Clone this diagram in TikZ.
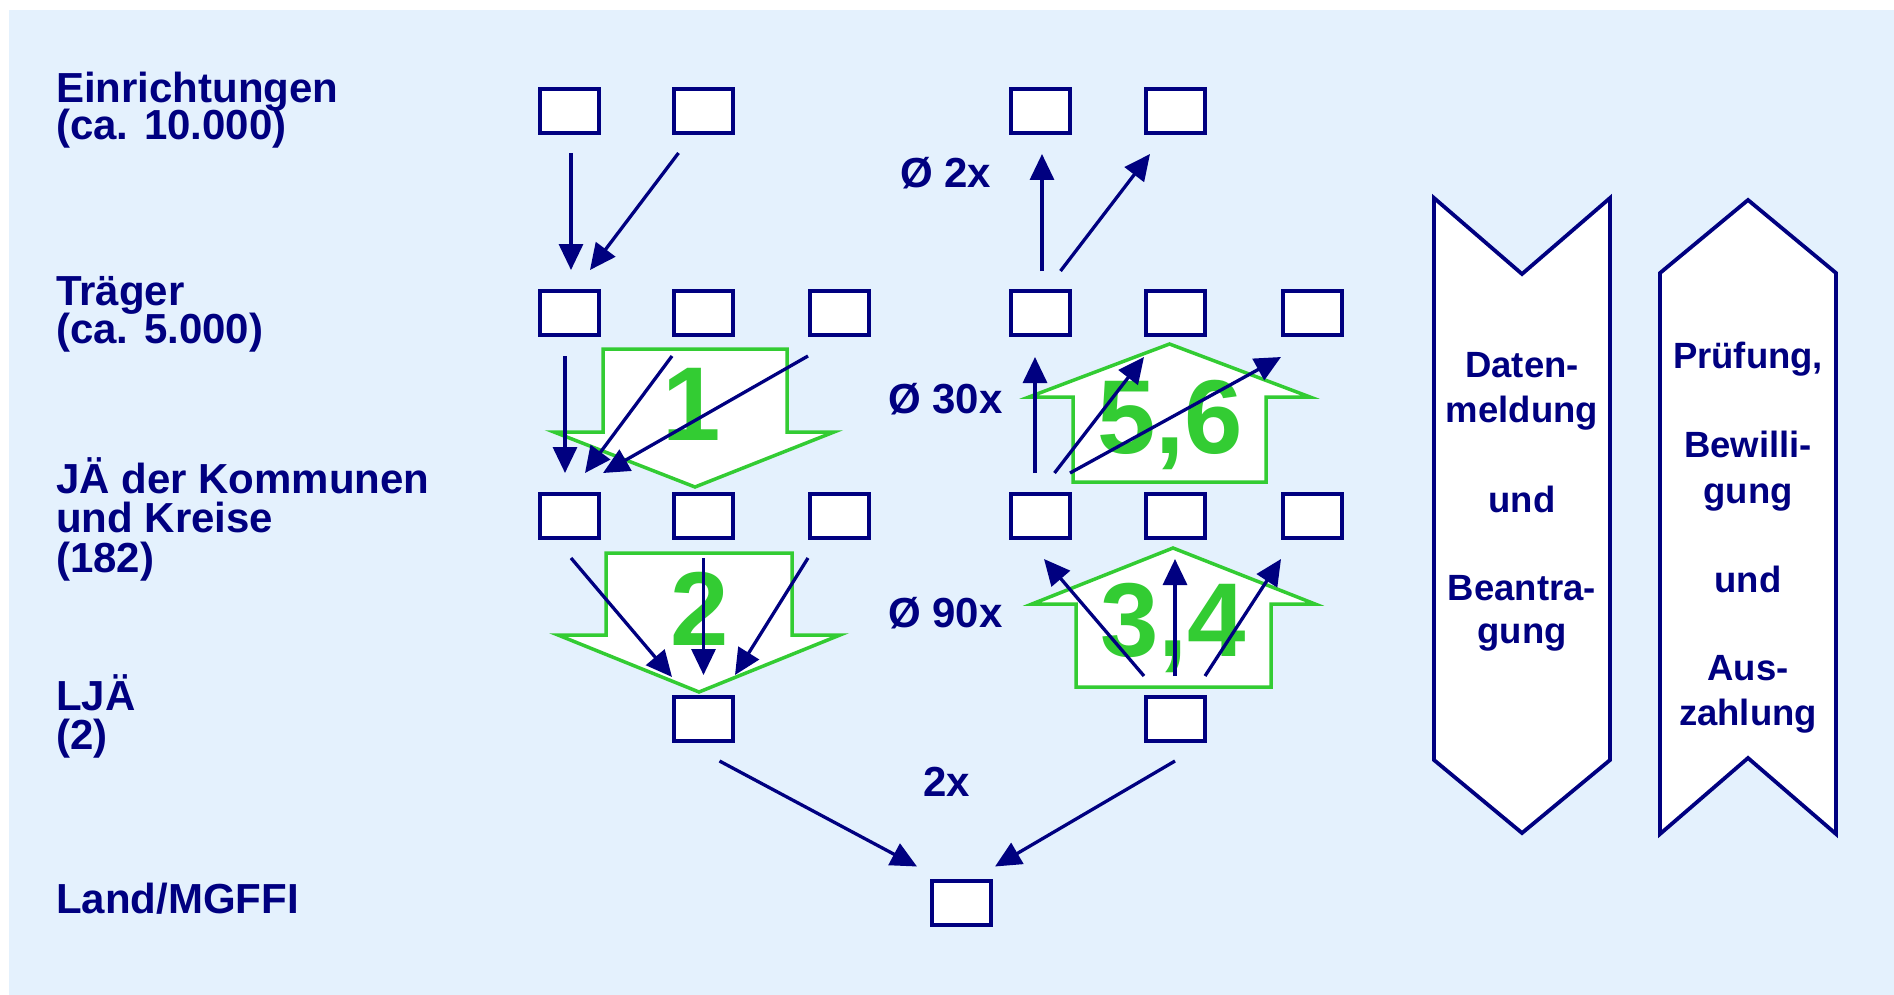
\documentclass[tikz,border=0pt]{standalone}
\usepackage{fontspec}
\setmainfont{Liberation Sans}
\usetikzlibrary{arrows.meta}
\definecolor{navy}{RGB}{0,0,128}
\definecolor{bgreen}{RGB}{51,204,51}
\definecolor{bgblue}{RGB}{228,241,253}
\begin{document}
\begin{tikzpicture}[x=1pt,y=-1pt,
 box/.style={draw=navy,fill=white,line width=4pt,minimum width=59pt,minimum height=44pt,inner sep=0pt},
 arr/.style={draw=navy,line width=3.3pt,-{Triangle[length=26pt,width=24pt]}},
 blockarr/.style={draw=bgreen,fill=white,line width=3.5pt},
 banner/.style={draw=navy,fill=white,line width=3.8pt},
 lab/.style={inner sep=0pt,anchor=base west,text=navy,font=\fontsize{42}{42}\selectfont\bfseries},
 btxt/.style={inner sep=0pt,anchor=base,text=navy,font=\fontsize{36.5}{36.5}\selectfont\bfseries},
 num/.style={inner sep=0pt,anchor=base,text=bgreen,font=\fontsize{105}{105}\selectfont\bfseries}]
\useasboundingbox (0,0) rectangle (1894,995);
\fill[white] (0,0) rectangle (1894,995);
\fill[bgblue] (9,10) rectangle (1894,995);

% left labels
\node[lab] (l1a) at (56,103) {Einrichtungen};
\node[lab] (l1b) at (56,140) {(ca. 10.000)};
\node[lab] (l2a) at (56,305) {Träger};
\node[lab] (l2b) at (56,343) {(ca. 5.000)};
\node[lab] (l3a) at (56,493) {JÄ der Kommunen};
\node[lab] (l3b) at (56,532) {und Kreise};
\node[lab] (l3c) at (56,572) {(182)};
\node[lab] (l4a) at (56,710) {LJÄ};
\node[lab] (l4b) at (56,749) {(2)};
\node[lab] (l5a) at (56,913) {Land/MGFFI};

% middle labels
\node[lab] (m1) at (900,187) {Ø 2x};
\node[lab] (m2) at (888,413) {Ø 30x};
\node[lab] (m3) at (888,627) {Ø 90x};
\node[lab] (m4) at (923,796) {2x};

% green block arrows
\draw[blockarr] (603,349) -- (787,349) -- (787,432) -- (834,432) -- (695,487) -- (554,432) -- (603,432) -- cycle;
\draw[blockarr] (606,553) -- (792,553) -- (792,635) -- (840,635) -- (699,692) -- (558,635) -- (606,635) -- cycle;
\draw[blockarr] (1073,482) -- (1073,397) -- (1029,397) -- (1169.5,344) -- (1310,397) -- (1266,397) -- (1266,482) -- cycle;
\draw[blockarr] (1076,687) -- (1076,604) -- (1032,604) -- (1173,548) -- (1315,604) -- (1271,604) -- (1271,687) -- cycle;
\node[num] (n1) at (692,440) {1};
\node[num] (n2) at (700,645) {2};
\node[num] (n56) at (1170,453) {5,6};
\node[num] (n34) at (1173,656) {3,4};

% boxes
\node[box] (eL1) at (569,111) {};
\node[box] (eL2) at (703.5,111) {};
\node[box] (tL1) at (569,313) {};
\node[box] (tL2) at (703.5,313) {};
\node[box] (tL3) at (839.5,313) {};
\node[box] (jL1) at (569,516) {};
\node[box] (jL2) at (703.5,516) {};
\node[box] (jL3) at (839.5,516) {};
\node[box] (ljL) at (703.5,719) {};
\node[box] (eR1) at (1040.5,111) {};
\node[box] (eR2) at (1175,111) {};
\node[box] (tR1) at (1040.5,313) {};
\node[box] (tR2) at (1175,313) {};
\node[box] (tR3) at (1312.5,313) {};
\node[box] (jR1) at (1040.5,516) {};
\node[box] (jR2) at (1175,516) {};
\node[box] (jR3) at (1312.5,516) {};
\node[box] (ljR) at (1175,719) {};
\node[box] (land) at (961.5,902.5) {};

% left arrows
\draw[arr] ([xshift=2pt,yshift=-18pt]eL1.south) -- ([xshift=2pt,yshift=19pt]tL1.north);
\draw[arr] ([xshift=-25pt,yshift=-18pt]eL2.south) -- ([xshift=21pt,yshift=19pt]tL1.north);
\draw[arr] ([xshift=-4pt,yshift=-19pt]tL1.south) -- ([xshift=-4pt,yshift=19pt]jL1.north);
\draw[arr] ([xshift=-31.5pt,yshift=-19pt]tL2.south) -- ([xshift=16pt,yshift=19pt]jL1.north);
\draw[arr] ([xshift=-31.5pt,yshift=-19pt]tL3.south) -- ([xshift=34pt,yshift=19pt]jL1.north);
\draw[arr] ([xshift=2pt,yshift=-18pt]jL1.south) -- ([xshift=-31.5pt,yshift=18pt]ljL.north);
\draw[arr] ([yshift=-18pt]jL2.south) -- ([yshift=20pt]ljL.north);
\draw[arr] ([xshift=-31.5pt,yshift=-18pt]jL3.south) -- ([xshift=31.5pt,yshift=20pt]ljL.north);
\draw[arr] ([xshift=16pt,yshift=-18pt]ljL.south) -- ([xshift=-44.5pt,yshift=12pt]land.north);

% right arrows
\draw[arr] ([xshift=1.5pt,yshift=18pt]tR1.north) -- ([xshift=1.5pt,yshift=-19pt]eR1.south);
\draw[arr] ([xshift=20pt,yshift=18pt]tR1.north) -- ([xshift=-25pt,yshift=-19pt]eR2.south);
\draw[arr] ([xshift=-5.5pt,yshift=19pt]jR1.north) -- ([xshift=-5.5pt,yshift=-20pt]tR1.south);
\draw[arr] ([xshift=14pt,yshift=19pt]jR1.north) -- ([xshift=-31pt,yshift=-20pt]tR2.south);
\draw[arr] ([xshift=29.5pt,yshift=19pt]jR1.north) -- ([xshift=-31.5pt,yshift=-20pt]tR3.south);
\draw[arr] ([xshift=-31pt,yshift=19pt]ljR.north) -- ([xshift=3.5pt,yshift=-19pt]jR1.south);
\draw[arr] ([yshift=19pt]ljR.north) -- ([yshift=-19pt]jR2.south);
\draw[arr] ([xshift=30pt,yshift=19pt]ljR.north) -- ([xshift=-31.5pt,yshift=-19pt]jR3.south);
\draw[arr] ([yshift=-18pt]ljR.south) -- ([xshift=33.5pt,yshift=12pt]land.north);

% banners
\draw[banner] (1434,198) -- (1522,274) -- (1610,198) -- (1610,760) -- (1522,833) -- (1434,760) -- cycle;
\draw[banner] (1660,273) -- (1748,200) -- (1836,273) -- (1836,834) -- (1748,758) -- (1660,834) -- cycle;
\node[btxt] (b1a) at (1522,377) {Daten-};
\node[btxt] (b1b) at (1522,422) {meldung};
\node[btxt] (b1c) at (1522,512) {und};
\node[btxt] (b1d) at (1522,600) {Beantra-};
\node[btxt] (b1e) at (1522,643) {gung};
\node[btxt] (b2a) at (1748,368) {Prüfung,};
\node[btxt] (b2b) at (1748,457) {Bewilli-};
\node[btxt] (b2c) at (1748,503) {gung};
\node[btxt] (b2d) at (1748,592) {und};
\node[btxt] (b2e) at (1748,680) {Aus-};
\node[btxt] (b2f) at (1748,725) {zahlung};
\end{tikzpicture}
\end{document}
